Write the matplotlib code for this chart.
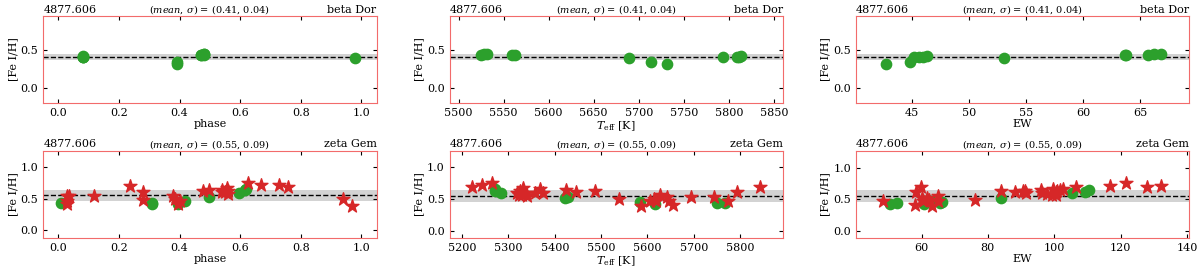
import numpy as np
import matplotlib
matplotlib.use('Agg')
import matplotlib.pyplot as plt

plt.rcParams['font.family'] = 'DejaVu Serif'
plt.rcParams['mathtext.fontset'] = 'dejavuserif'
plt.rcParams['font.size'] = 8

line = '4877.606'
stars = ['beta Dor', 'zeta Gem']
means = [0.41, 0.55]
sigmas = [0.04, 0.09]

# beta Dor (only circles)
bd_feh = [0.31, 0.34, 0.41, 0.41, 0.41, 0.42, 0.39, 0.43, 0.43, 0.43, 0.44, 0.44]
bd_phase = [0.39, 0.39, 0.08, 0.08, 0.08, 0.08, 0.98, 0.47, 0.47, 0.48, 0.48, 0.48]
bd_teff = [5731, 5714, 5793, 5809, 5811, 5814, 5689, 5559, 5563, 5525, 5528, 5532]
bd_ew = [42.7, 44.8, 45.2, 45.6, 46.0, 46.3, 53.1, 63.7, 63.8, 65.7, 66.2, 66.8]

# zeta Gem, phase panel
zg_phase_c = [0.008, 0.308, 0.31, 0.396, 0.418, 0.497, 0.597, 0.616, 0.62]
zg_phase_c_feh = [0.434, 0.434, 0.42, 0.42, 0.455, 0.529, 0.593, 0.635, 0.655]
zg_phase_s = [0.028, 0.036, 0.028, 0.030, 0.118, 0.237, 0.279, 0.279, 0.377, 0.385,
              0.40, 0.395, 0.477, 0.496, 0.539, 0.556, 0.55, 0.559, 0.541, 0.56,
              0.627, 0.669, 0.729, 0.759, 0.938, 0.969]
zg_phase_s_feh = [0.545, 0.545, 0.466, 0.413, 0.534, 0.693, 0.608, 0.476, 0.534, 0.49,
                  0.466, 0.413, 0.624, 0.64, 0.635, 0.667, 0.598, 0.571, 0.61, 0.62,
                  0.751, 0.709, 0.72, 0.688, 0.492, 0.381]

# zeta Gem, Teff panel
zg_teff_c = [5270, 5271, 5285, 5421, 5429, 5583, 5617, 5749, 5768]
zg_teff_c_feh = [0.624, 0.65, 0.587, 0.518, 0.529, 0.455, 0.423, 0.44, 0.429]
zg_teff_s = [5222, 5243, 5265, 5319, 5326, 5331, 5337, 5330, 5322, 5340, 5357, 5369,
             5374, 5424, 5445, 5486, 5538, 5585, 5605, 5614, 5619, 5627, 5642, 5646,
             5655, 5693, 5743, 5773, 5792, 5842]
zg_teff_s_feh = [0.688, 0.714, 0.757, 0.587, 0.624, 0.667, 0.598, 0.56, 0.556, 0.545,
                 0.598, 0.661, 0.593, 0.635, 0.614, 0.624, 0.492, 0.386, 0.476, 0.503,
                 0.466, 0.556, 0.534, 0.466, 0.402, 0.534, 0.534, 0.476, 0.608, 0.693]

# zeta Gem, EW panel
zg_ew_c = [50.4, 52.5, 60.8, 63.0, 65.5, 66.2, 84.1, 105.4, 109.2, 110.5]
zg_ew_c_feh = [0.429, 0.444, 0.423, 0.476, 0.44, 0.455, 0.519, 0.593, 0.608, 0.651]
zg_ew_s = [48.4, 58.0, 58.3, 59.7, 60.0, 60.5, 61.5, 62.2, 63.2, 65.0, 65.0, 76.1, 84.1,
           88.1, 90.6, 91.1, 91.4, 95.9, 96.2, 97.7, 99.2, 99.7, 100.6, 100.7, 100.5,
           101.7, 102.7, 106.5, 116.8, 121.6, 128.1, 132.2]
zg_ew_s_feh = [0.466, 0.413, 0.608, 0.693, 0.519, 0.466, 0.519, 0.492, 0.386, 0.556,
               0.476, 0.492, 0.624, 0.614, 0.635, 0.635, 0.598, 0.64, 0.598, 0.582,
               0.571, 0.667, 0.614, 0.635, 0.571, 0.651, 0.661, 0.688, 0.709, 0.762,
               0.693, 0.714]

xlims = [[(-0.05, 1.05), (5490, 5860), (40.1, 69.3)],
         [(-0.05, 1.05), (5173, 5892), (40.2, 140.7)]]
xlabels = ['phase', r'$T_{\rm eff}$ [K]', 'EW']

fig, axes = plt.subplots(2, 3, figsize=(12, 2.71), dpi=100)
plt.subplots_adjust(left=0.036, right=0.991, bottom=0.122, top=0.941,
                    wspace=0.219, hspace=0.552)

panels = [
    [(bd_phase, bd_feh, [], []), (bd_teff, bd_feh, [], []), (bd_ew, bd_feh, [], [])],
    [(zg_phase_c, zg_phase_c_feh, zg_phase_s, zg_phase_s_feh),
     (zg_teff_c, zg_teff_c_feh, zg_teff_s, zg_teff_s_feh),
     (zg_ew_c, zg_ew_c_feh, zg_ew_s, zg_ew_s_feh)],
]

for i in range(2):
    for j in range(3):
        ax = axes[i, j]
        xc, yc, xs, ys = panels[i][j]
        m, s = means[i], sigmas[i]
        ax.axhspan(m - s, m + s, color='#d3d3d3', lw=0, zorder=0)
        ax.axhline(m, color='k', ls='--', lw=1, zorder=1)
        ax.scatter(xc, yc, s=55, color='#2ca02c', zorder=3)
        if len(xs):
            ax.scatter(xs, ys, s=95, marker='*', color='#d62728', zorder=3)
        ally = list(yc) + list(ys)
        ax.set_ylim(min(ally) - 0.5, max(ally) + 0.5)
        ax.set_xlim(*xlims[i][j])
        ax.set_xlabel(xlabels[j], labelpad=1)
        ax.set_ylabel('[Fe I/H]', labelpad=2)
        ax.set_title(line, loc='left', fontsize=8, pad=2.5)
        ax.set_title(stars[i], loc='right', fontsize=8, pad=2.5)
        ax.set_title(r'$(mean,\,\sigma)$ = (%.2f, %.2f)' % (m, s), loc='center',
                     fontsize=7, pad=2.5)
        for sp in ax.spines.values():
            sp.set_color('#f26b6b')
        ax.tick_params(direction='in', top=True, right=True, length=3, labelsize=8)

plt.savefig('out.png', dpi=100)
